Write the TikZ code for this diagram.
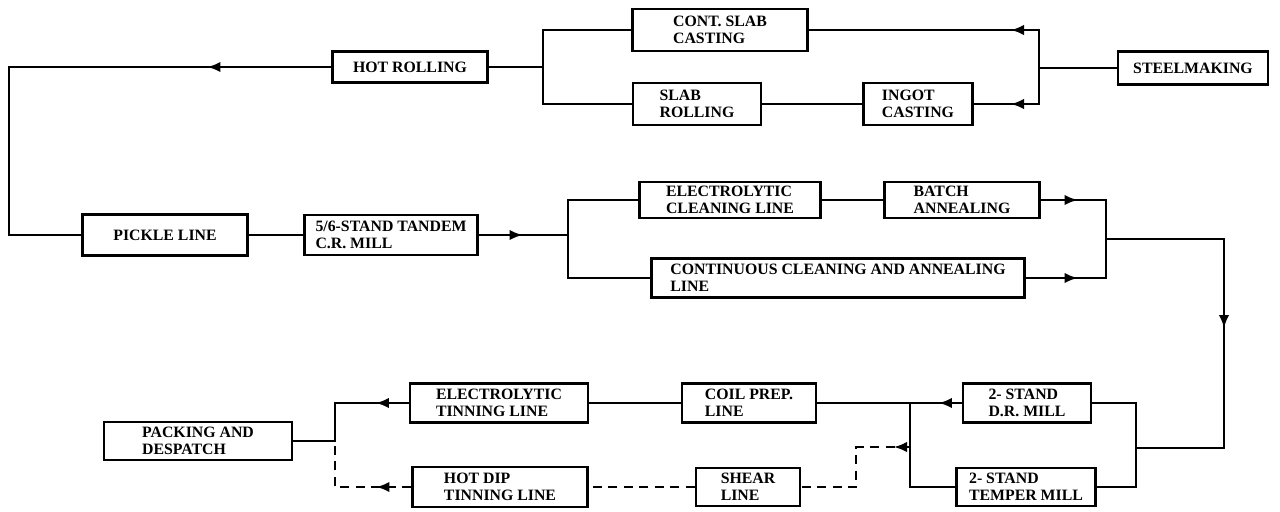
\documentclass[tikz,border=0pt]{standalone}
\usepackage{fontspec}
\setmainfont{Liberation Serif}
\usetikzlibrary{arrows.meta,decorations.markings}
\tikzset{
  unit/.style={draw, line width=1.2pt, align=left, inner sep=1.5pt, font=\bfseries\fontsize{9}{9.6}\selectfont},
  flow/.style={line width=1.2pt},
  back/.style={line width=1.2pt, dash pattern=on 1.8mm off 1.3mm},
  arrowat/.style={postaction={decorate}, decoration={markings, mark=at position #1 with {\arrow{Latex[length=2.6mm,width=2.1mm]}}}}
}
\begin{document}
\begin{tikzpicture}[x=0.2mm, y=-0.2mm]
        \useasboundingbox (0,0) rectangle (1280,511);
        % Stahlwerk
        \node[unit, minimum width=30mm, minimum height=6.6mm] (steel) at (1193,68) {STEELMAKING};
        \node[unit, minimum width=35mm, minimum height=8.4mm] (cont) at (720,30) {CONT. SLAB\\CASTING};
        \node[unit, minimum width=21.8mm, minimum height=8.4mm] (ingot) at (918,104) {INGOT\\CASTING};
        \node[unit, minimum width=25.6mm, minimum height=8.4mm] (slab) at (697,104) {SLAB\\ROLLING};
        \node[unit, minimum width=31mm, minimum height=6.2mm] (hot) at (410,67) {HOT ROLLING};

        % Kaltwalzen
        \node[unit, minimum width=33mm, minimum height=8.2mm] (pickle) at (165,235) {PICKLE LINE};
        \node[unit, minimum width=34.6mm, minimum height=8mm] (tandem) at (391,235) {5/6-STAND TANDEM\\C.R. MILL};
        \node[unit, minimum width=36.2mm, minimum height=7.2mm] (ecl) at (730,200) {ELECTROLYTIC\\CLEANING LINE};
        \node[unit, minimum width=31mm, minimum height=7.2mm] (batch) at (962,200) {BATCH\\ANNEALING};
        \node[unit, minimum width=74.6mm, minimum height=7.8mm] (ccal) at (838,278) {CONTINUOUS CLEANING AND ANNEALING\\LINE};

        % Nachwalzen und Verzinnen
        \node[unit, minimum width=25.6mm, minimum height=7.8mm] (dr) at (1027,403) {2- STAND\\D.R. MILL};
        \node[unit, minimum width=27.8mm, minimum height=7.6mm] (temper) at (1026,487) {2- STAND\\TEMPER MILL};
        \node[unit, minimum width=26.8mm, minimum height=7.8mm] (coil) at (749,403) {COIL PREP.\\LINE};
        \node[unit, minimum width=35.6mm, minimum height=7.8mm] (etl) at (499,403) {ELECTROLYTIC\\TINNING LINE};
        \node[unit, minimum width=37.6mm, minimum height=7.6mm] (pack) at (198,441) {PACKING AND\\DESPATCH};
        \node[unit, minimum width=35mm, minimum height=8mm] (hdt) at (500,487) {HOT DIP\\TINNING LINE};
        \node[unit, minimum width=20.8mm, minimum height=7.6mm] (shear) at (748,487) {SHEAR\\LINE};

        % Knoten
        \coordinate (sj) at (1039,68);
        \coordinate (hj) at (543,67);
        \coordinate (lc) at (9,67);
        \coordinate (cj) at (568,235);
        \coordinate (aj) at (1106,239);
        \coordinate (rc) at (1224,239);
        \coordinate (mj) at (1136,448);
        \coordinate (dj) at (910,403);
        \coordinate (pj) at (335,441);
        \coordinate (sb) at (910,447);
        \coordinate (sk) at (856,487);

        % Linien oben
        \draw[flow] (steel.west) -- (sj);
        \draw[flow, arrowat=13.2mm] (sj) |- (cont.east);
        \draw[flow, arrowat=12.8mm] (sj) |- (ingot.east);
        \draw[flow] (ingot) -- (slab);
        \draw[flow] (cont.west) -| (hj) |- (slab.west);
        \draw[flow] (hj) -- (hot.east);
        \draw[flow, arrowat=24.8mm] (hot.west) -- (lc) |- (pickle.west);

        % Linien Mitte
        \draw[flow] (pickle) -- (tandem);
        \draw[flow, arrowat=8.8mm] (tandem.east) -- (cj);
        \draw[flow] (ecl.west) -| (cj) |- (ccal.west);
        \draw[flow] (ecl) -- (batch);
        \draw[flow, arrowat=7.4mm] (batch.east) -| (aj);
        \draw[flow, arrowat=10.4mm] (ccal.east) -| (aj);
        \draw[flow, arrowat=41.4mm] (aj) -- (rc) |- (mj);

        % Linien unten
        \draw[flow] (dr.east) -| (mj) |- (temper.east);
        \draw[flow, arrowat=4.6mm] (dr.west) -- (coil.east);
        \draw[flow] (temper.west) -| (dj);
        \draw[flow] (coil) -- (etl);
        \draw[flow, arrowat=6.6mm] (etl.west) -| (pj) -- (pack.east);

        % gestrichelt
        \draw[back, arrowat=3.2mm] (sb) -| (sk) -- (shear.east);
        \draw[back] (shear) -- (hdt);
        \draw[back, arrowat=7mm] (hdt.west) -| (pj);
\end{tikzpicture}
\end{document}
